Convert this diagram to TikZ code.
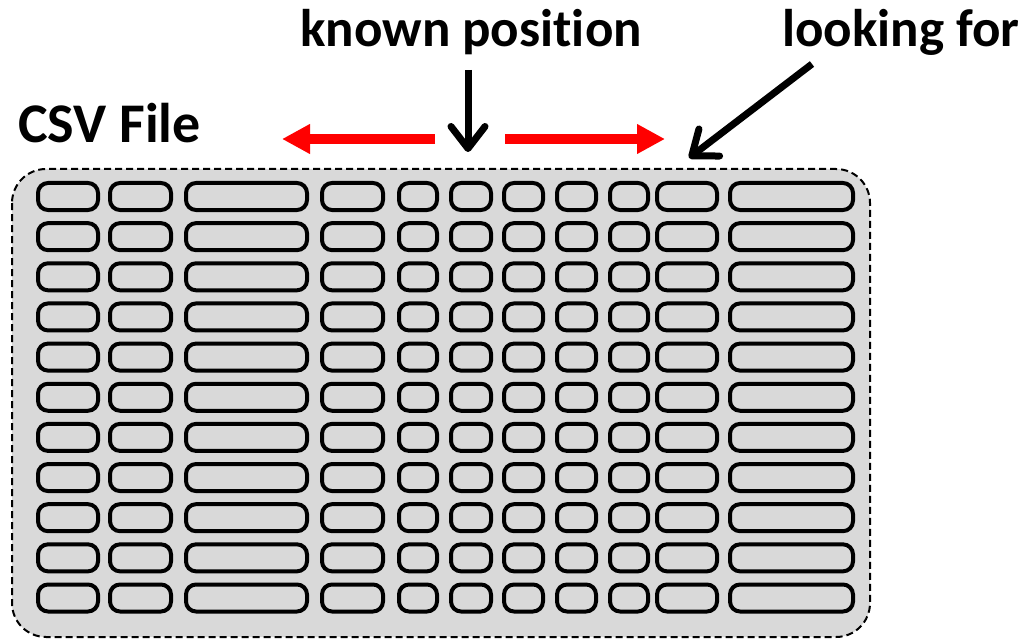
\documentclass[tikz,border=0pt]{standalone}
\usepackage{fontspec}
\setmainfont{Carlito}[Ligatures=CommonOff]
\usetikzlibrary{arrows.meta}
\definecolor{sheetgray}{HTML}{D9D9D9}
\definecolor{pushred}{HTML}{FF0000}
\tikzset{
  sheet/.style={draw=black, fill=sheetgray, line width=2pt, dash pattern=on 7pt off 4pt, rounded corners=34pt},
  cell/.style={draw=black, fill=sheetgray, line width=4pt, rounded corners=10pt},
  label/.style={font=\bfseries\fontsize{56}{60}\selectfont, anchor=base west, inner sep=0pt},
  toplabel/.style={label, font=\bfseries\fontsize{53}{58}\selectfont},
  pointer/.style={line width=7pt, -{Straight Barb[length=22pt,width=34pt,line cap=round,line join=round]}},
  scan/.style={draw=pushred, line width=10pt, -{Triangle[length=28pt,width=28pt]}}
}
\begin{document}
\begin{tikzpicture}[x=1pt,y=-1pt]
\useasboundingbox (0,0) rectangle (1027,639);

% file outline
\path[sheet] (12,169) rectangle (870,637);

% grid of fields: left and right edge of every column
\foreach \xa/\xb in {38/98,110/171,186/307,322/383,399/437,451/491,504/543,557/596,610/648,657/717,730/853}{
  \foreach \r in {0,...,10}{
    \path[cell] (\xa,{183+40.15*\r}) rectangle (\xb,{210+40.15*\r});
  }
}

% captions
\node[label] (csv) at (18,143) {CSV File};
\node[toplabel] (known) at (300,47) {known position};
\node[toplabel] (look) at (782,47) {looking for};

% arrow end points
\coordinate (downTop) at (468,70);
\coordinate (downTip) at (468,152);
\coordinate (leftStart) at (435,139);
\coordinate (leftTip) at (282,139);
\coordinate (rightStart) at (505,139);
\coordinate (rightTip) at (665,139);
\coordinate (diagStart) at (812,64);
\coordinate (diagTip) at (689,158);

\draw[pointer] (downTop) -- (downTip);
\draw[pointer] (diagStart) -- (diagTip);
\draw[scan] (leftStart) -- (leftTip);
\draw[scan] (rightStart) -- (rightTip);
\end{tikzpicture}
\end{document}
